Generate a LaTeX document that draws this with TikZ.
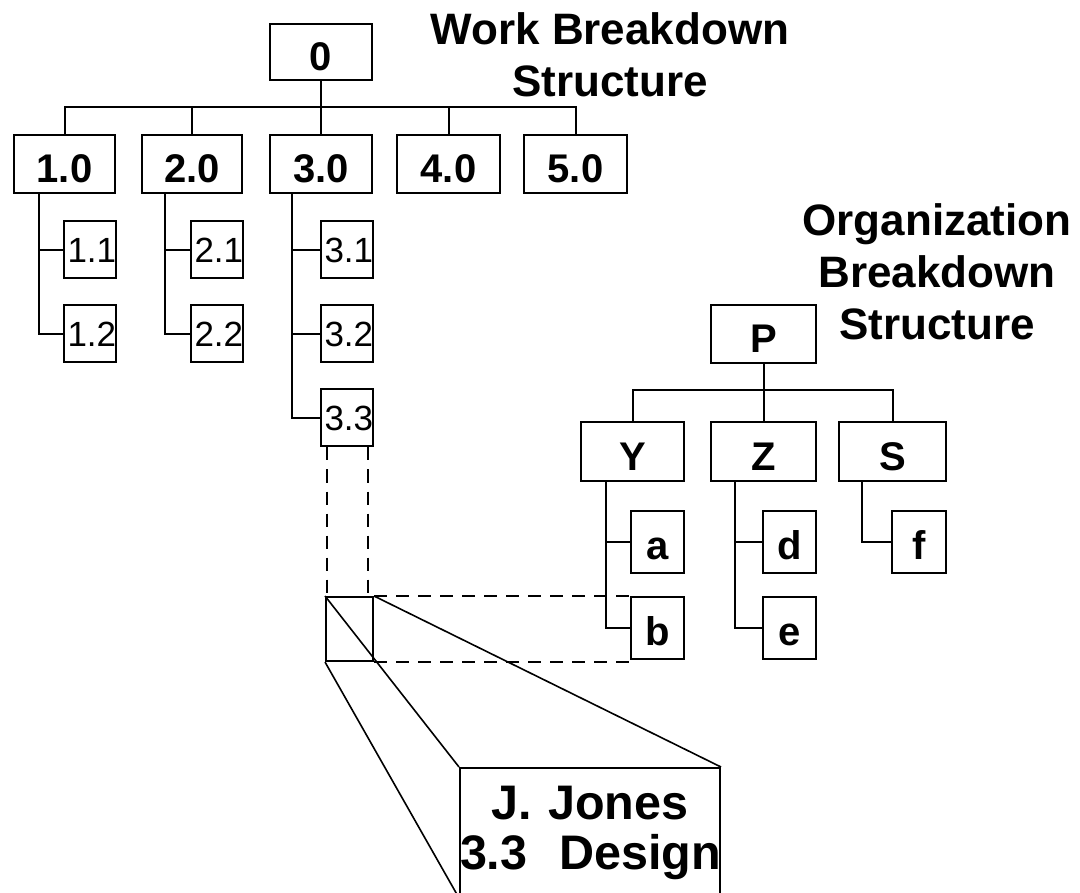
\documentclass[tikz,border=0pt]{standalone}
\usepackage{fontspec}
\setmainfont{Liberation Sans}
\begin{document}
\begin{tikzpicture}[x=1pt,y=-1pt,line width=2pt,
  wbox/.style={draw,inner sep=0pt,font=\fontsize{40}{40}\selectfont\bfseries,text height=38pt,text depth=0pt},
  sub/.style={draw,inner xsep=4pt,inner ysep=0pt,text width=44pt,align=left,minimum height=57pt,font=\fontsize{35}{35}\selectfont},
  ltr/.style={draw,inner sep=0pt,minimum width=53pt,minimum height=62pt,font=\fontsize{40}{40}\selectfont\bfseries,text height=34pt,text depth=0pt},
  title/.style={inner sep=0pt,align=center,font=\fontsize{44}{52}\selectfont\bfseries},
  dsh/.style={dash pattern=on 13pt off 9pt},
  diag/.style={line width=1.6pt}]
\useasboundingbox (0,0) rectangle (1080,893);
% titles
\node[title,anchor=north] (wt) at (610,12) {Work Breakdown\\Structure};
\node[title,anchor=north] (ot) at (937,203) {Organization\\Breakdown\\Structure};
% WBS
\node[wbox,minimum width=102pt,minimum height=56pt] (n0) at (321,52) {0};
\node[wbox,minimum width=101pt,minimum height=58pt] (n1) at (64.5,164) {1.0};
\node[wbox,minimum width=100pt,minimum height=58pt] (n2) at (192,164) {2.0};
\node[wbox,minimum width=102pt,minimum height=58pt] (n3) at (321,164) {3.0};
\node[wbox,minimum width=103pt,minimum height=58pt] (n4) at (448.5,164) {4.0};
\node[wbox,minimum width=103pt,minimum height=58pt] (n5) at (575.5,164) {5.0};
\coordinate (wb) at (0,107);
\draw (n1.north) -- (n1.north |- wb) -- (n5.north |- wb) -- (n5.north);
\foreach \n in {n2,n3,n4} \draw (\n.north) -- (\n.north |- wb);
\draw (n0.south) -- (n0.south |- wb);
\node[sub] (n11) at (89.5,250) {1.1};
\node[sub] (n12) at (89.5,334) {1.2};
\node[sub] (n21) at (216.5,250) {2.1};
\node[sub] (n22) at (216.5,334) {2.2};
\node[sub] (n31) at (346.5,250) {3.1};
\node[sub] (n32) at (346.5,334) {3.2};
\node[sub] (n33) at (346.5,418) {3.3};
\coordinate (s1) at ([xshift=26pt]n1.south west);
\coordinate (s2) at ([xshift=24pt]n2.south west);
\coordinate (s3) at ([xshift=23pt]n3.south west);
\draw (s1) |- (n12.west);
\draw (n11.west) -- (s1 |- n11.west);
\draw (s2) |- (n22.west);
\draw (n21.west) -- (s2 |- n21.west);
\draw (s3) |- (n33.west);
\draw (n31.west) -- (s3 |- n31.west);
\draw (n32.west) -- (s3 |- n32.west);
% OBS
\node[wbox,minimum width=105pt,minimum height=58pt] (P) at (763.5,334) {P};
\node[wbox,minimum width=103pt,minimum height=59pt] (Y) at (632.5,451.5) {Y};
\node[wbox,minimum width=105pt,minimum height=59pt] (Z) at (763.5,451.5) {Z};
\node[wbox,minimum width=107pt,minimum height=59pt] (S) at (892.5,451.5) {S};
\coordinate (ob) at (0,390);
\draw (Y.north) -- (Y.north |- ob) -- (S.north |- ob) -- (S.north);
\draw (Z.north) -- (Z.north |- ob);
\draw (P.south) -- (P.south |- ob);
\node[ltr] (a) at (657.5,542) {a};
\node[ltr] (b) at (657.5,628) {b};
\node[ltr] (d) at (789.5,542) {d};
\node[ltr] (e) at (789.5,628) {e};
\node[ltr,minimum width=54pt] (f) at (919,542) {f};
\coordinate (sy) at ([xshift=26pt]Y.south west);
\coordinate (sz) at ([xshift=25pt]Z.south west);
\coordinate (ss) at ([xshift=24pt]S.south west);
\draw (sy) |- (b.west);
\draw (a.west) -- (sy |- a.west);
\draw (sz) |- (e.west);
\draw (d.west) -- (sz |- d.west);
\draw (ss) |- (f.west);
% zoom box
\node[draw,inner sep=0pt,minimum width=47pt,minimum height=64pt] (zb) at (349.5,629) {};
\coordinate (d1) at ([xshift=7pt]n33.south west);
\coordinate (d2) at ([xshift=-6pt]n33.south east);
\draw[dsh] (d1) -- (d1 |- zb.north);
\draw[dsh] (d2) -- (d2 |- zb.north);
\draw[dsh] (zb.north east) -- (b.north west);
\draw[dsh] (zb.south east) -- (zb.south east -| b.west);
\node[draw,inner sep=0pt,minimum width=260pt,minimum height=129pt,text width=260pt,align=center,font=\fontsize{48.5}{50}\selectfont\bfseries] (jj) at (590,832.5) {J. Jones\\\mbox{3.3\hspace{0.66em}Design}};
\draw[diag] (zb.north west) -- (jj.north west);
\draw[diag] (zb.north east) -- (jj.north east);
\draw[diag] (zb.south west) -- (jj.south west);
\end{tikzpicture}
\end{document}
